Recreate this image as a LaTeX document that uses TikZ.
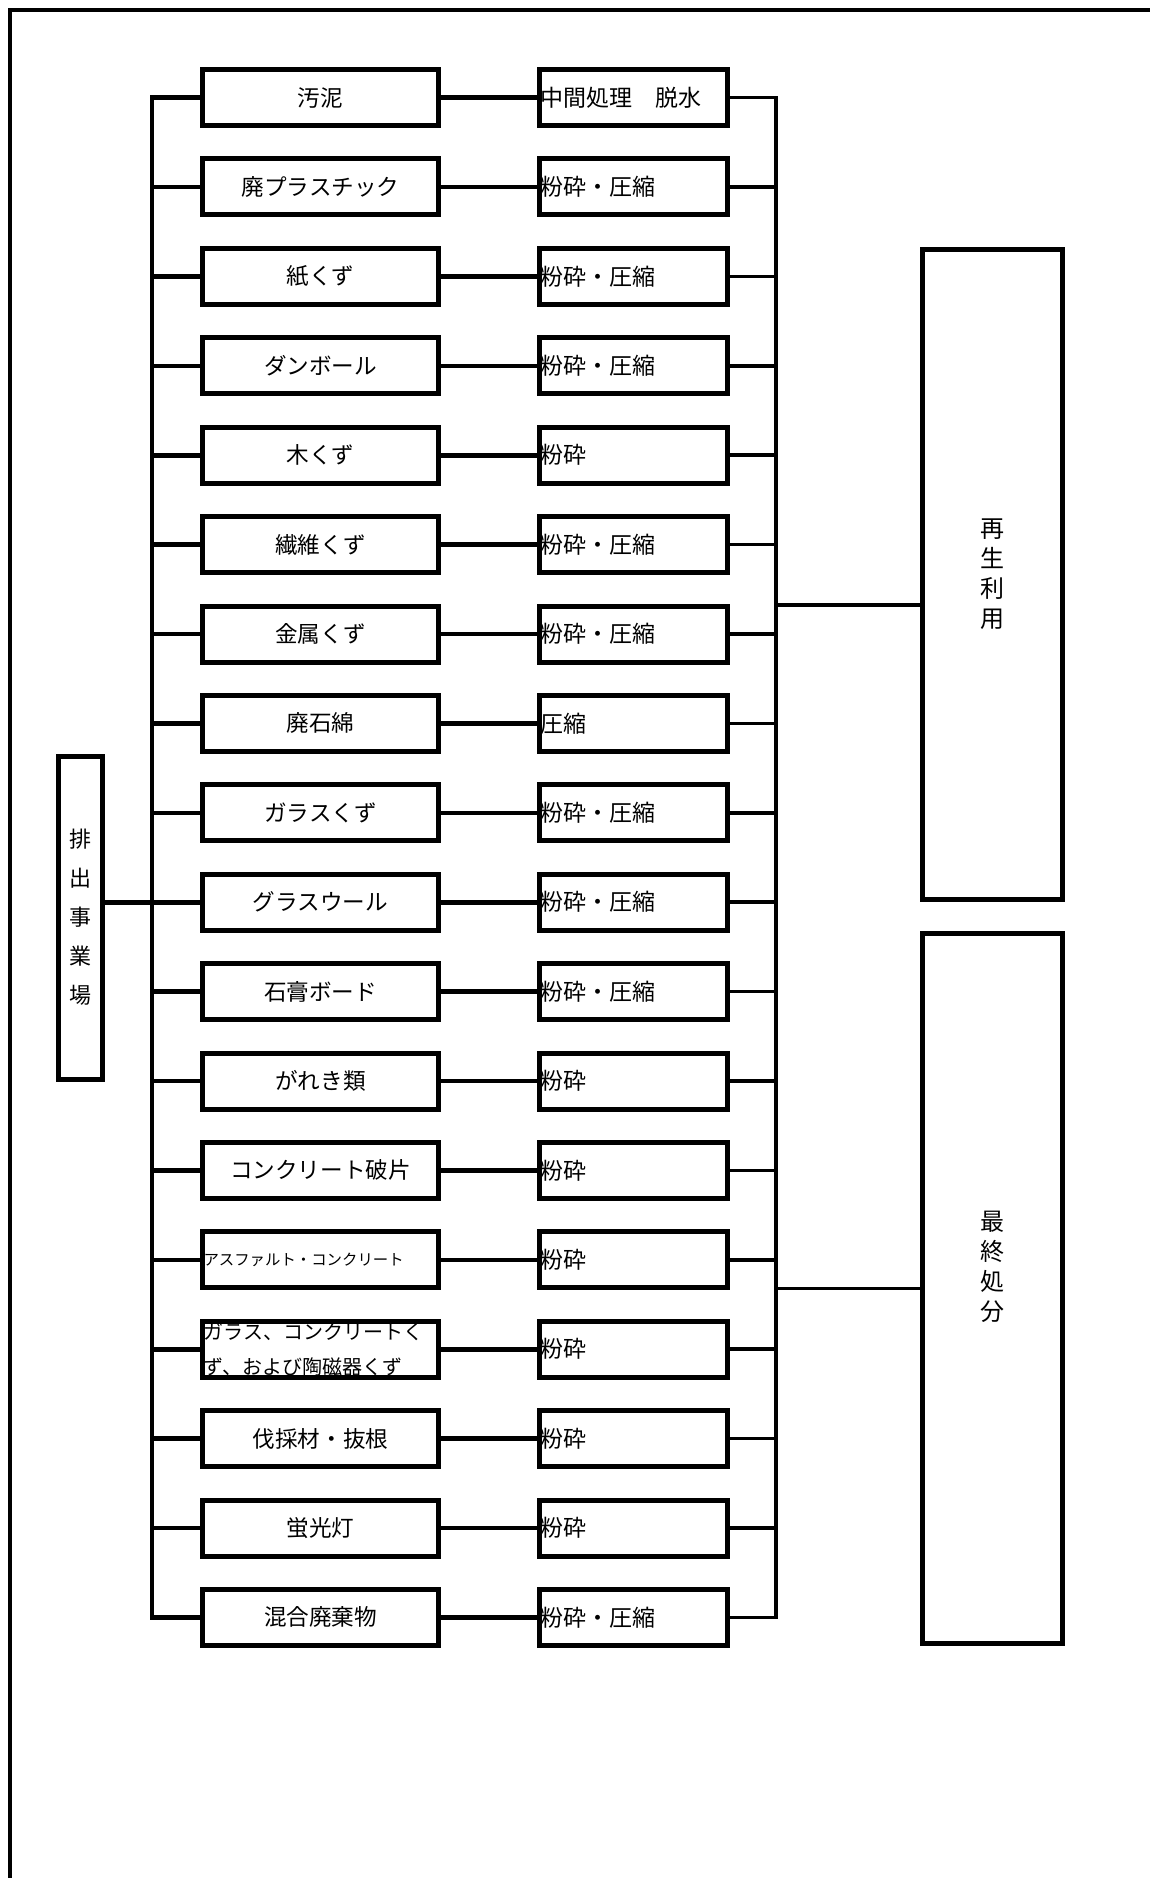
\documentclass[tikz,border=0pt]{standalone}
\usepackage{fontspec}
\setmainfont{Noto Sans CJK JP}

\begin{document}
\begin{tikzpicture}[x=0.5pt,y=-0.5pt,node distance=44.7pt,
  waste/.style={draw,line width=2.5pt,minimum width=118pt,minimum height=28pt,inner sep=0pt,font=\fontsize{11.3}{13}\selectfont},
  proc/.style={draw,line width=2.5pt,text width=93pt,minimum height=28pt,inner xsep=0.5pt,inner ysep=0pt,align=left,font=\fontsize{11.5}{13}\selectfont},
  tall/.style={draw,line width=2.5pt,minimum width=70pt,align=center,font=\fontsize{12}{15}\selectfont},
  link/.style={line width=2.3pt,line cap=rect},
  thin/.style={line width=1.8pt,line cap=rect}]
\useasboundingbox (0,0) rectangle (1150,1878);

% frame
\draw[line width=1.6pt] (10,1878) -- (10,10) -- (1150,10);

% waste kinds
\node (w1) [waste] at (320.5,97.6) {汚泥};
\node (w2) [waste,below of=w1] {廃プラスチック};
\node (w3) [waste,below of=w2] {紙くず};
\node (w4) [waste,below of=w3] {ダンボール};
\node (w5) [waste,below of=w4] {木くず};
\node (w6) [waste,below of=w5] {繊維くず};
\node (w7) [waste,below of=w6] {金属くず};
\node (w8) [waste,below of=w7] {廃石綿};
\node (w9) [waste,below of=w8] {ガラスくず};
\node (w10) [waste,below of=w9] {グラスウール};
\node (w11) [waste,below of=w10] {石膏ボード};
\node (w12) [waste,below of=w11] {がれき類};
\node (w13) [waste,below of=w12] {コンクリート破片};
\node (w14) [waste,below of=w13,text width=117pt,inner xsep=0.5pt,align=left,font=\fontsize{7.7}{9}\selectfont] {アスファルト・コンクリート};
\node (w15) [waste,below of=w14,text width=117pt,inner xsep=0.5pt,align=left,font=\fontsize{10}{17.5}\selectfont] {ガラス、コンクリートく\\ず、および陶磁器くず};
\node (w16) [waste,below of=w15] {伐採材・抜根};
\node (w17) [waste,below of=w16] {蛍光灯};
\node (w18) [waste,below of=w17] {混合廃棄物};

% treatment
\node (p1) [proc,right of=w1,node distance=156.5pt] {中間処理　脱水};
\node (p2) [proc,below of=p1] {粉砕・圧縮};
\node (p3) [proc,below of=p2] {粉砕・圧縮};
\node (p4) [proc,below of=p3] {粉砕・圧縮};
\node (p5) [proc,below of=p4] {粉砕};
\node (p6) [proc,below of=p5] {粉砕・圧縮};
\node (p7) [proc,below of=p6] {粉砕・圧縮};
\node (p8) [proc,below of=p7] {圧縮};
\node (p9) [proc,below of=p8] {粉砕・圧縮};
\node (p10) [proc,below of=p9] {粉砕・圧縮};
\node (p11) [proc,below of=p10] {粉砕・圧縮};
\node (p12) [proc,below of=p11] {粉砕};
\node (p13) [proc,below of=p12] {粉砕};
\node (p14) [proc,below of=p13] {粉砕};
\node (p15) [proc,below of=p14] {粉砕};
\node (p16) [proc,below of=p15] {粉砕};
\node (p17) [proc,below of=p16] {粉砕};
\node (p18) [proc,below of=p17] {粉砕・圧縮};

% source and destinations
\node (src) [tall,minimum width=22pt,minimum height=161.5pt,font=\fontsize{11}{19.5}\selectfont] at (80.5,917.5) {排\\出\\事\\業\\場};
\node (reuse) [tall,minimum height=325pt] at (992.5,574.5) {再\\生\\利\\用};
\node (final) [tall,minimum height=355pt,label={[align=center,font=\fontsize{12}{15}\selectfont,yshift=11pt]center:最\\終\\処\\分}] at (992.5,1288.5) {};

% trunks
\coordinate (tl) at (152,0);
\coordinate (tr) at (776,0);
\coordinate (rj) at (776,605);
\draw[link] (tl |- w1) -- (tl |- w18);
\draw[thin] (tr |- p1) -- (tr |- p18);
\draw[link] (src.east |- w10) -- (tl |- w10);
\draw[thin] (rj) -- (reuse.west |- rj);
\draw[thin] (tr |- final) -- (final);

% branches
\draw[link] (tl |- w1) -- (w1); \draw[link] (w1) -- (p1); \draw[thin] (p1) -- (tr |- p1);
\draw[link] (tl |- w2) -- (w2); \draw[link] (w2) -- (p2); \draw[thin] (p2) -- (tr |- p2);
\draw[link] (tl |- w3) -- (w3); \draw[link] (w3) -- (p3); \draw[thin] (p3) -- (tr |- p3);
\draw[link] (tl |- w4) -- (w4); \draw[link] (w4) -- (p4); \draw[thin] (p4) -- (tr |- p4);
\draw[link] (tl |- w5) -- (w5); \draw[link] (w5) -- (p5); \draw[thin] (p5) -- (tr |- p5);
\draw[link] (tl |- w6) -- (w6); \draw[link] (w6) -- (p6); \draw[thin] (p6) -- (tr |- p6);
\draw[link] (tl |- w7) -- (w7); \draw[link] (w7) -- (p7); \draw[thin] (p7) -- (tr |- p7);
\draw[link] (tl |- w8) -- (w8); \draw[link] (w8) -- (p8); \draw[thin] (p8) -- (tr |- p8);
\draw[link] (tl |- w9) -- (w9); \draw[link] (w9) -- (p9); \draw[thin] (p9) -- (tr |- p9);
\draw[link] (tl |- w10) -- (w10); \draw[link] (w10) -- (p10); \draw[thin] (p10) -- (tr |- p10);
\draw[link] (tl |- w11) -- (w11); \draw[link] (w11) -- (p11); \draw[thin] (p11) -- (tr |- p11);
\draw[link] (tl |- w12) -- (w12); \draw[link] (w12) -- (p12); \draw[thin] (p12) -- (tr |- p12);
\draw[link] (tl |- w13) -- (w13); \draw[link] (w13) -- (p13); \draw[thin] (p13) -- (tr |- p13);
\draw[link] (tl |- w14) -- (w14); \draw[link] (w14) -- (p14); \draw[thin] (p14) -- (tr |- p14);
\draw[link] (tl |- w15) -- (w15); \draw[link] (w15) -- (p15); \draw[thin] (p15) -- (tr |- p15);
\draw[link] (tl |- w16) -- (w16); \draw[link] (w16) -- (p16); \draw[thin] (p16) -- (tr |- p16);
\draw[link] (tl |- w17) -- (w17); \draw[link] (w17) -- (p17); \draw[thin] (p17) -- (tr |- p17);
\draw[link] (tl |- w18) -- (w18); \draw[link] (w18) -- (p18); \draw[thin] (p18) -- (tr |- p18);
\end{tikzpicture}
\end{document}
